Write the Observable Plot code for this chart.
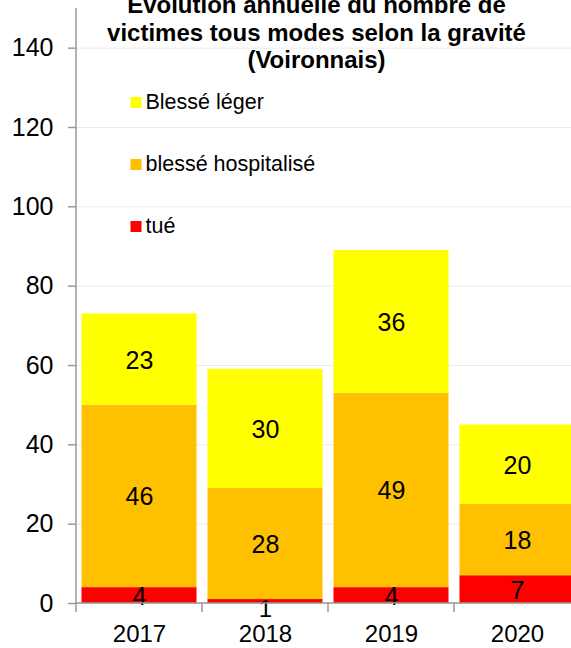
<!DOCTYPE html>
<html><head><meta charset="utf-8">
<script src="https://cdn.jsdelivr.net/npm/d3@7"></script>
<script src="https://cdn.jsdelivr.net/npm/@observablehq/plot@0.6"></script>
<style>
html,body{margin:0;padding:0;background:#fff;overflow:hidden;}
#chart{width:571px;height:648px;overflow:hidden;}
#chart svg{max-width:none !important;}
</style></head><body><div id="chart"></div>
<script>
const years = ["2017", "2018", "2019", "2020"];
const series = ["tué", "blessé hospitalisé", "Blessé léger"];
const tue = [4, 1, 4, 7];
const hosp = [46, 28, 49, 18];
const leger = [23, 30, 36, 20];
const colors = ["#FF0000", "#FFC000", "#FFFF00"];
const yTicks = [0, 20, 40, 60, 80, 100, 120, 140];
const legendLabels = ["Blessé léger", "blessé hospitalisé", "tué"];
const titleText = "Evolution annuelle du nombre de\nvictimes tous modes selon la gravité\n(Voironnais)";

const values = [tue, hosp, leger];
const data = series.flatMap((s, si) => years.map((y, yi) => ({year: y, serie: s, value: values[si][yi]})));

const axisGray = "#999999";

function axesLines(index, scales, vals, dims) {
  const g = d3.create("svg:g").attr("stroke", axisGray).attr("stroke-width", 1.5).attr("fill", "none");
  const x0 = dims.marginLeft, y0 = scales.y(0);
  g.append("line").attr("x1", x0).attr("x2", x0).attr("y1", dims.marginTop).attr("y2", y0);
  const bw = scales.x.bandwidth ? scales.x.bandwidth() : 126;
  const edges = years.map(y => scales.x(y)).concat([scales.x(years[years.length - 1]) + bw]);
  for (const e of edges) g.append("line").attr("x1", e).attr("x2", e).attr("y1", y0).attr("y2", y0 + 9);
  g.append("line").attr("x1", x0).attr("x2", dims.width - dims.marginRight).attr("y1", y0).attr("y2", y0);
  return g.node();
}

const legendMarks = legendLabels.flatMap((lab, i) => [
  Plot.dot([lab], {frameAnchor: "top-left", fill: d => d, symbol: "square", r: 6.2, dx: 59.5, dy: 94 + 62 * i}),
  Plot.text([lab], {frameAnchor: "top-left", text: d => d, textAnchor: "start", lineAnchor: "middle", fontSize: 21.5, fill: "black", dx: 69, dy: 94 + 62 * i})
]);

const chart = Plot.plot({
  width: 580,
  height: 648,
  marginLeft: 76,
  marginRight: 0,
  marginTop: 8,
  marginBottom: 45,
  style: {fontFamily: "'Liberation Sans', Arial, sans-serif", color: "black", background: "white", overflow: "visible"},
  x: {domain: years, padding: 0, label: null},
  y: {domain: [0, 150], label: null},
  color: {domain: series, range: colors},
  marks: [
    Plot.gridY({ticks: yTicks, stroke: "#ebebeb", strokeOpacity: 1}),
    Plot.barY(data, {x: "year", y: "value", fill: "serie", order: series, insetLeft: 5.5, insetRight: 5.5}),
    Plot.text(data, Plot.stackY({x: "year", y: "value", z: "serie", order: series, text: d => d.value >= 2 ? String(d.value) : null, fontSize: 25, fill: "black", dy: 1})),
    Plot.text(data, Plot.stackY({x: "year", y: "value", z: "serie", order: series, text: d => d.value < 2 ? String(d.value) : null, fontSize: 24, fill: "black", dy: 8})),
    Plot.axisY({ticks: yTicks, tickSize: 8, tickPadding: 15, fontSize: 25, stroke: axisGray, strokeWidth: 1.5, fill: "black", label: null}),
    Plot.axisX({tickSize: 0, tickPadding: 21, fontSize: 24, fill: "black", label: null}),
    axesLines,
    ...legendMarks,
    Plot.text([titleText], {frameAnchor: "top", text: d => d, fontSize: 24, fontWeight: "bold", lineHeight: 1.15, lineAnchor: "top", dx: -12, dy: -15, fill: "black"})
  ]
});
document.getElementById("chart").appendChild(chart);
</script></body></html>
